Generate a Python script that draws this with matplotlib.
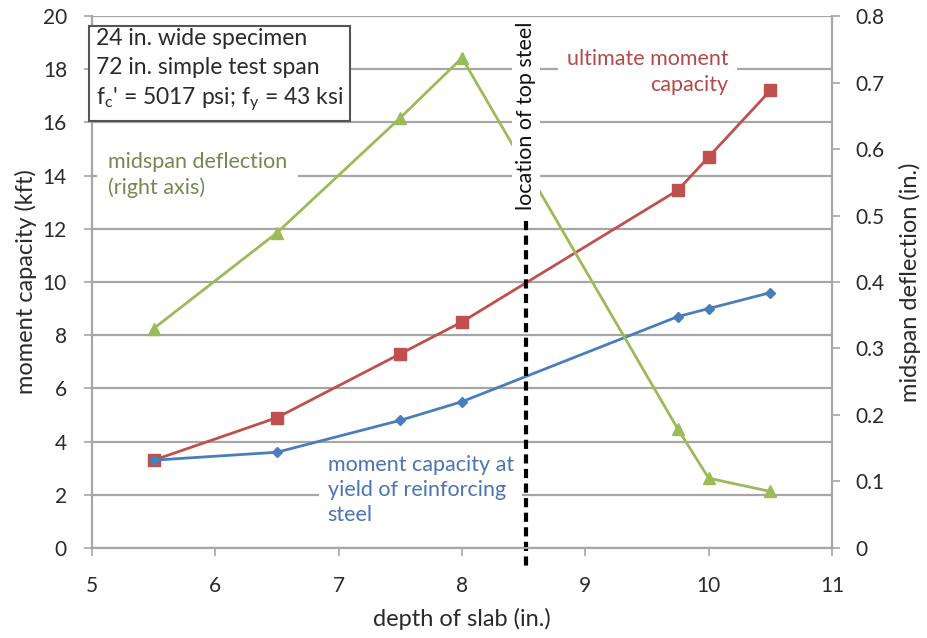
import matplotlib.pyplot as plt

plt.rcParams['font.family'] = ['Lato', 'DejaVu Sans']
plt.rcParams['font.size'] = 15

# data
depth = [5.5, 6.5, 7.5, 8.0, 9.75, 10.0, 10.5]
ultimate = [3.3, 4.9, 7.3, 8.5, 13.45, 14.7, 17.2]
yield_cap = [3.3, 3.6, 4.8, 5.5, 8.7, 9.0, 9.6]
deflection = [0.33, 0.474, 0.647, 0.737, 0.179, 0.105, 0.085]

left_ticks = [0, 2, 4, 6, 8, 10, 12, 14, 16, 18, 20]
right_ticks = [0, 0.1, 0.2, 0.3, 0.4, 0.5, 0.6, 0.7, 0.8]
right_labels = ['0', '0.1', '0.2', '0.3', '0.4', '0.5', '0.6', '0.7', '0.8']
x_ticks = [5, 6, 7, 8, 9, 10, 11]

top_steel_x = 8.52
top_steel_y = (12.3, -0.85)   # left-axis units

gray = '#a6a6a6'
dark = '#2a2a2a'
red = '#c0504d'
blue = '#4a7ebb'
green = '#9bbb59'

fig = plt.figure(figsize=(9.27, 6.38), dpi=100)
ax = fig.add_axes([0.0992, 0.1411, 0.7983, 0.8338])
ax2 = ax.twinx()

ax.set_xlim(5, 11)
ax.set_ylim(0, 20)
ax2.set_ylim(0, 0.8)
ax.set_xticks(x_ticks)
ax.set_yticks(left_ticks)
ax2.set_yticks(right_ticks)
ax2.set_yticklabels(right_labels)

for a in (ax, ax2):
    for s in a.spines.values():
        s.set_color(gray)
        s.set_linewidth(1.5)
    a.spines['top'].set_visible(False)
    a.tick_params(colors=gray, labelcolor=dark, length=6, width=1.2, labelsize=15)
ax.tick_params(axis='y', pad=12)
ax2.tick_params(axis='y', pad=11)
ax.tick_params(axis='x', pad=14)

ax.yaxis.grid(True, color=gray, linewidth=1.6)
ax.set_axisbelow(True)

ax.set_xlabel('depth of slab (in.)', fontsize=17, color=dark, labelpad=9)
ax.set_ylabel('moment capacity (kft)', fontsize=17, color=dark, labelpad=4)
ax2.set_ylabel('midspan deflection (in.)', fontsize=17, color=dark, labelpad=10)

ax.plot(depth, ultimate, color=red, linewidth=2, marker='s', markersize=8, zorder=3)
ax.plot(depth, yield_cap, color=blue, linewidth=2, marker='D', markersize=5, zorder=3)
ax2.plot(depth, deflection, color=green, linewidth=2, marker='^', markersize=8, zorder=3)
ax2.patch.set_visible(False)

ax.plot([top_steel_x, top_steel_x], top_steel_y, color='black',
        linewidth=3, linestyle=(0, (2.2, 1.3)), clip_on=False, zorder=5)

ax2.text(top_steel_x, 0.791, 'location of top steel', rotation=90, ha='center', va='top',
         fontsize=15.5, color='#111111',
         bbox=dict(facecolor='white', edgecolor='none', pad=3), zorder=6)

ax2.text(5.035, 0.782,
         '24 in. wide specimen\n72 in. simple test span\n'
         r"f$_\mathregular{c}$' = 5017 psi; f$_\mathregular{y}$ = 43 ksi",
         ha='left', va='top', fontsize=16.5, color=dark, linespacing=1.45,
         bbox=dict(facecolor='white', edgecolor='#555555', linewidth=1.5, pad=5),
         zorder=6)

ax2.text(5.13, 0.561, 'midspan deflection\n(right axis)', ha='left', va='center',
         fontsize=15.5, color='#76884f', linespacing=1.3,
         bbox=dict(facecolor='white', edgecolor='none', pad=8), zorder=6)

ax2.text(10.16, 0.716, 'ultimate moment\ncapacity', ha='right', va='center',
         fontsize=15.5, color='#b4494a', linespacing=1.35,
         bbox=dict(facecolor='white', edgecolor='none', pad=6), zorder=6)

ax2.text(6.91, 0.087, 'moment capacity at\nyield of reinforcing\nsteel', ha='left', va='center',
         fontsize=15.5, color='#4a74b4', linespacing=1.3,
         bbox=dict(facecolor='white', edgecolor='none', pad=6), zorder=6)

fig.savefig('out.png', dpi=100)
